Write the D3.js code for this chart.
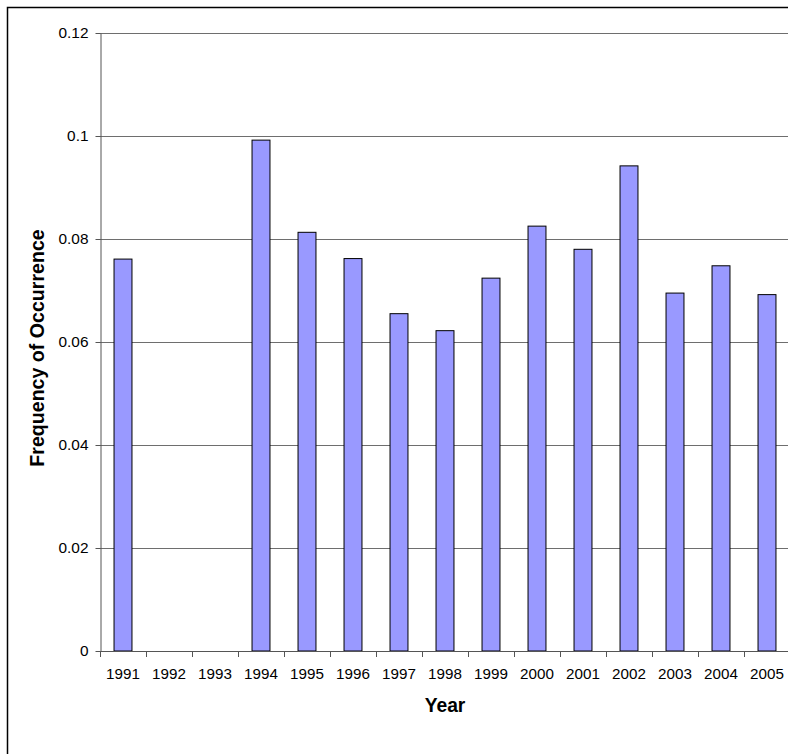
<!DOCTYPE html>
<html>
<head>
<meta charset="utf-8">
<script src="https://cdn.jsdelivr.net/npm/d3@7"></script>
<style>
  body { margin: 0; background: #fff; }
  text { font-family: "Liberation Sans", Arial, sans-serif; }
</style>
</head>
<body>
<svg id="chart" width="788" height="754"></svg>
<script>
// yearly frequency bars
const years = ["1991", "1992", "1993", "1994", "1995", "1996", "1997", "1998", "1999", "2000", "2001", "2002", "2003", "2004", "2005"];
const freq = [0.0761, 0, 0, 0.0992, 0.0813, 0.0762, 0.0655, 0.0622, 0.0724, 0.0825, 0.0780, 0.0942, 0.0695, 0.0748, 0.0692];
const yTicks = [0, 0.02, 0.04, 0.06, 0.08, 0.1, 0.12];
const yLabels = ["0", "0.02", "0.04", "0.06", "0.08", "0.1", "0.12"];

const svg = d3.select("#chart");
const pLeft = 100, pRight = 790, pTop = 33, pBottom = 651;

// outer chart frame, runs off the right and bottom like the original
svg.append("rect")
  .attr("x", 7.5).attr("y", 7.5)
  .attr("width", 900).attr("height", 900)
  .attr("fill", "none").attr("stroke", "#000").attr("stroke-width", 1.5);

const x = d3.scaleBand().domain(years).range([pLeft, pRight])
  .paddingInner(0.61).paddingOuter(0.305);
const y = d3.scaleLinear().domain([0, 0.12]).range([pBottom, pTop]);

// gridlines
svg.append("g").selectAll("line")
  .data(yTicks.slice(1))
  .join("line")
  .attr("x1", pLeft).attr("x2", pRight)
  .attr("y1", d => Math.round(y(d)) + 0.5).attr("y2", d => Math.round(y(d)) + 0.5)
  .attr("stroke", "#6e6e6e").attr("stroke-width", 1);

// bars
svg.append("g").selectAll("rect")
  .data(years.map((yr, i) => ({ yr, v: freq[i] })).filter(d => d.v > 0))
  .join("rect")
  .attr("x", d => x(d.yr))
  .attr("y", d => y(d.v))
  .attr("width", x.bandwidth())
  .attr("height", d => y(0) - y(d.v))
  .attr("fill", "#9999ff")
  .attr("stroke", "#000").attr("stroke-width", 1);

// y axis
const yAxis = svg.append("g")
  .attr("transform", `translate(${pLeft + 0.5},0)`)
  .call(d3.axisLeft(y).tickValues(yTicks).tickSize(5).tickSizeOuter(0)
    .tickFormat((d, i) => yLabels[i]));
yAxis.select(".domain").attr("stroke", "#555");
yAxis.selectAll(".tick line").attr("stroke", "#555");
yAxis.selectAll("text").attr("font-size", 15.4).attr("fill", "#000")
  .attr("font-family", "Liberation Sans, Arial, sans-serif").attr("x", -12);

// x axis: baseline and ticks on category boundaries
const xg = svg.append("g");
xg.append("line")
  .attr("x1", pLeft).attr("x2", pRight)
  .attr("y1", pBottom + 0.5).attr("y2", pBottom + 0.5)
  .attr("stroke", "#555");
const edge = (x.step() - x.bandwidth()) / 2;
xg.selectAll(".xt")
  .data(years)
  .join("line")
  .attr("class", "xt")
  .attr("x1", d => Math.round(x(d) - edge) + 0.5).attr("x2", d => Math.round(x(d) - edge) + 0.5)
  .attr("y1", pBottom).attr("y2", pBottom + 6)
  .attr("stroke", "#555");
xg.selectAll(".xl")
  .data(years)
  .join("text")
  .attr("class", "xl")
  .attr("x", d => x(d) + x.bandwidth() / 2)
  .attr("y", 678.5)
  .attr("text-anchor", "middle")
  .attr("font-size", 15.2)
  .text(d => d);

// axis titles
svg.append("text")
  .attr("x", 445).attr("y", 711.5)
  .attr("text-anchor", "middle")
  .attr("font-size", 19.3).attr("font-weight", "bold")
  .text("Year");
svg.append("text")
  .attr("transform", "translate(44,348) rotate(-90)")
  .attr("text-anchor", "middle")
  .attr("font-size", 19.6).attr("font-weight", "bold")
  .text("Frequency of Occurrence");
</script>
</body>
</html>
